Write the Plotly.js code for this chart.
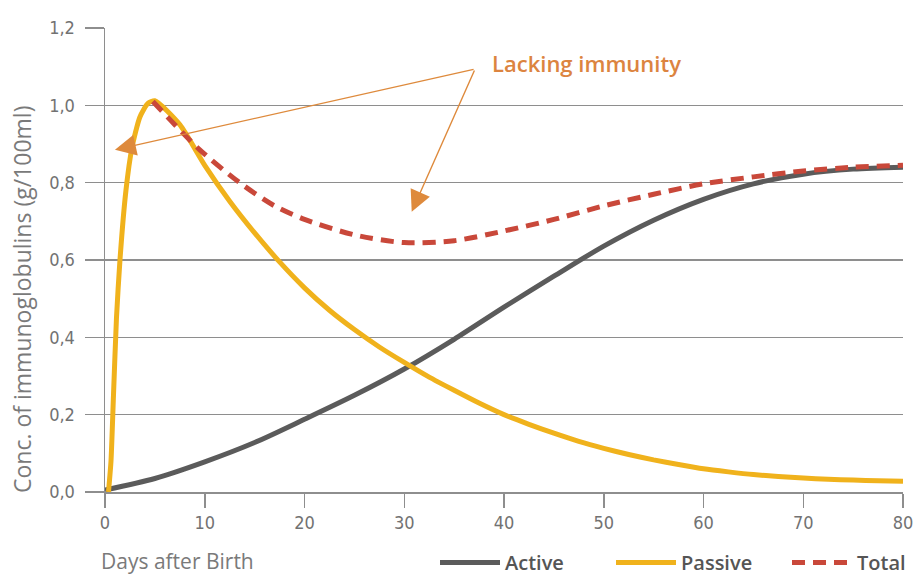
<!DOCTYPE html>
<html>
<head>
<meta charset="utf-8">
<script src="https://cdn.plot.ly/plotly-3.0.1.min.js"></script>
<style>html,body{margin:0;padding:0;background:#fff}#chart{width:913px;height:576px}</style>
</head>
<body>
<div id="chart"></div>
<script>
// Days after birth / concentration (g/100ml)
const activeX = [0, 5, 10, 15, 20, 25, 30, 35, 40, 45, 50, 55, 60, 65, 70, 75, 80];
const activeY = [0.005, 0.035, 0.078, 0.128, 0.188, 0.25, 0.318, 0.395, 0.478, 0.558, 0.636, 0.703, 0.757, 0.797, 0.822, 0.835, 0.84];

const passiveX = [0.35, 0.6, 0.85, 1.15, 1.5, 2.1, 2.7, 3.5, 4.3, 5, 7.5, 10, 12.5, 15, 17.5, 20, 22.5, 25, 27.5, 30, 32.5, 35, 37.5, 40, 42.5, 45, 47.5, 50, 52.5, 55, 57.5, 60, 62.5, 65, 67.5, 70, 72.5, 75, 77.5, 80];
const passiveY = [0, 0.08, 0.25, 0.45, 0.6, 0.78, 0.89, 0.97, 1.005, 1.012, 0.95, 0.845, 0.752, 0.67, 0.595, 0.528, 0.47, 0.42, 0.375, 0.335, 0.297, 0.263, 0.23, 0.2, 0.175, 0.152, 0.131, 0.113, 0.097, 0.083, 0.071, 0.06, 0.052, 0.045, 0.04, 0.036, 0.033, 0.031, 0.029, 0.028];

const totalX = [4.8, 7, 9.5, 13.5, 17, 20, 25, 30, 35, 40, 45, 50, 55, 60, 65, 70, 75, 80];
const totalY = [1.01, 0.95, 0.885, 0.8, 0.74, 0.705, 0.665, 0.645, 0.65, 0.675, 0.705, 0.74, 0.77, 0.797, 0.815, 0.83, 0.84, 0.845];

const xTicks = [0, 10, 20, 30, 40, 50, 60, 70, 80];
const yTicks = [0, 0.2, 0.4, 0.6, 0.8, 1.0, 1.2];

const seriesNames = ['Active', 'Passive', 'Total'];
const annotationText = 'Lacking immunity';
const xTitle = 'Days after Birth';
const yTitle = 'Conc. of immunoglobulins (g/100ml)';

const gridCol = '#8e8e8e';
const tickFont = {family: '"DejaVu Sans Condensed", "Liberation Sans Narrow", "Open Sans", sans-serif', size: 18, color: '#727272'};
const arrowCol = '#de8a3c';

const traces = [
  {x: activeX, y: activeY, name: seriesNames[0], mode: 'lines', line: {color: '#5b5b5b', width: 5, shape: 'spline', smoothing: 0.8}},
  {x: passiveX, y: passiveY, name: seriesNames[1], mode: 'lines', line: {color: '#f0b21c', width: 5, shape: 'spline', smoothing: 0.6}},
  {x: totalX, y: totalY, name: seriesNames[2], mode: 'lines', line: {color: '#c9483a', width: 5, dash: '13px,8px', shape: 'spline', smoothing: 0.8}}
];

const layout = {
  width: 913, height: 576,
  margin: {l: 105, r: 10, t: 28, b: 84, autoexpand: false},
  paper_bgcolor: '#ffffff', plot_bgcolor: '#ffffff',
  separators: ',.',
  showlegend: true,
  legend: {
    orientation: 'h', x: (435 - 105) / 798, xanchor: 'left', y: -0.152, yanchor: 'middle',
    font: {family: '"Open Sans", sans-serif', size: 20, color: '#555555', weight: 600},
    itemwidth: 60, entrywidth: 101, entrywidthmode: 'pixels', tracegroupgap: 0, bgcolor: 'rgba(0,0,0,0)'
  },
  xaxis: {
    range: [0, 80], tickvals: xTicks, tickformat: 'd',
    showgrid: false, zeroline: false,
    showline: true, linecolor: gridCol, linewidth: 1.5,
    ticks: 'outside', ticklen: 14, tickwidth: 1.5, tickcolor: gridCol,
    ticklabeloverflow: 'allow',
    tickfont: tickFont, fixedrange: true
  },
  yaxis: {
    range: [0, 1.2], tickvals: yTicks, tickformat: '.1f',
    showgrid: true, gridcolor: gridCol, gridwidth: 1.5,
    zeroline: false,
    showline: true, linecolor: gridCol, linewidth: 1.5,
    ticks: 'outside', ticklen: 19, tickwidth: 1.5, tickcolor: gridCol,
    ticklabelstandoff: 6,
    tickfont: tickFont, fixedrange: true
  },
  annotations: [
    {text: annotationText, xref: 'paper', yref: 'paper', x: (490 - 105) / 798, y: (492 - 63) / 464,
     xanchor: 'left', yanchor: 'middle', showarrow: false,
     font: {family: '"Open Sans", sans-serif', size: 22, color: '#dc8440', weight: 600}},
    {text: '', xref: 'x', yref: 'y', x: 1.0, y: 0.885, axref: 'x', ayref: 'y', ax: 37.1, ay: 1.094,
     showarrow: true, arrowhead: 2, arrowsize: 3, arrowwidth: 1.4, arrowcolor: arrowCol, standoff: 0},
    {text: '', xref: 'x', yref: 'y', x: 30.75, y: 0.725, axref: 'x', ayref: 'y', ax: 37.1, ay: 1.094,
     showarrow: true, arrowhead: 2, arrowsize: 3, arrowwidth: 1.4, arrowcolor: arrowCol, standoff: 0},
    {text: xTitle, xref: 'paper', yref: 'paper', x: -0.008, y: -0.148, xanchor: 'left', yanchor: 'middle',
     showarrow: false, font: {family: '"Open Sans", sans-serif', size: 21, color: '#7a7a7a'}},
    {text: yTitle, xref: 'paper', yref: 'paper', x: (22 - 105) / 798, y: (492 - 300) / 464, xanchor: 'center', yanchor: 'middle',
     textangle: -90, showarrow: false, font: {family: '"Open Sans", sans-serif', size: 23, color: '#7a7a7a'}}
  ]
};

Plotly.newPlot('chart', traces, layout, {displayModeBar: false, staticPlot: true});
</script>
</body>
</html>
